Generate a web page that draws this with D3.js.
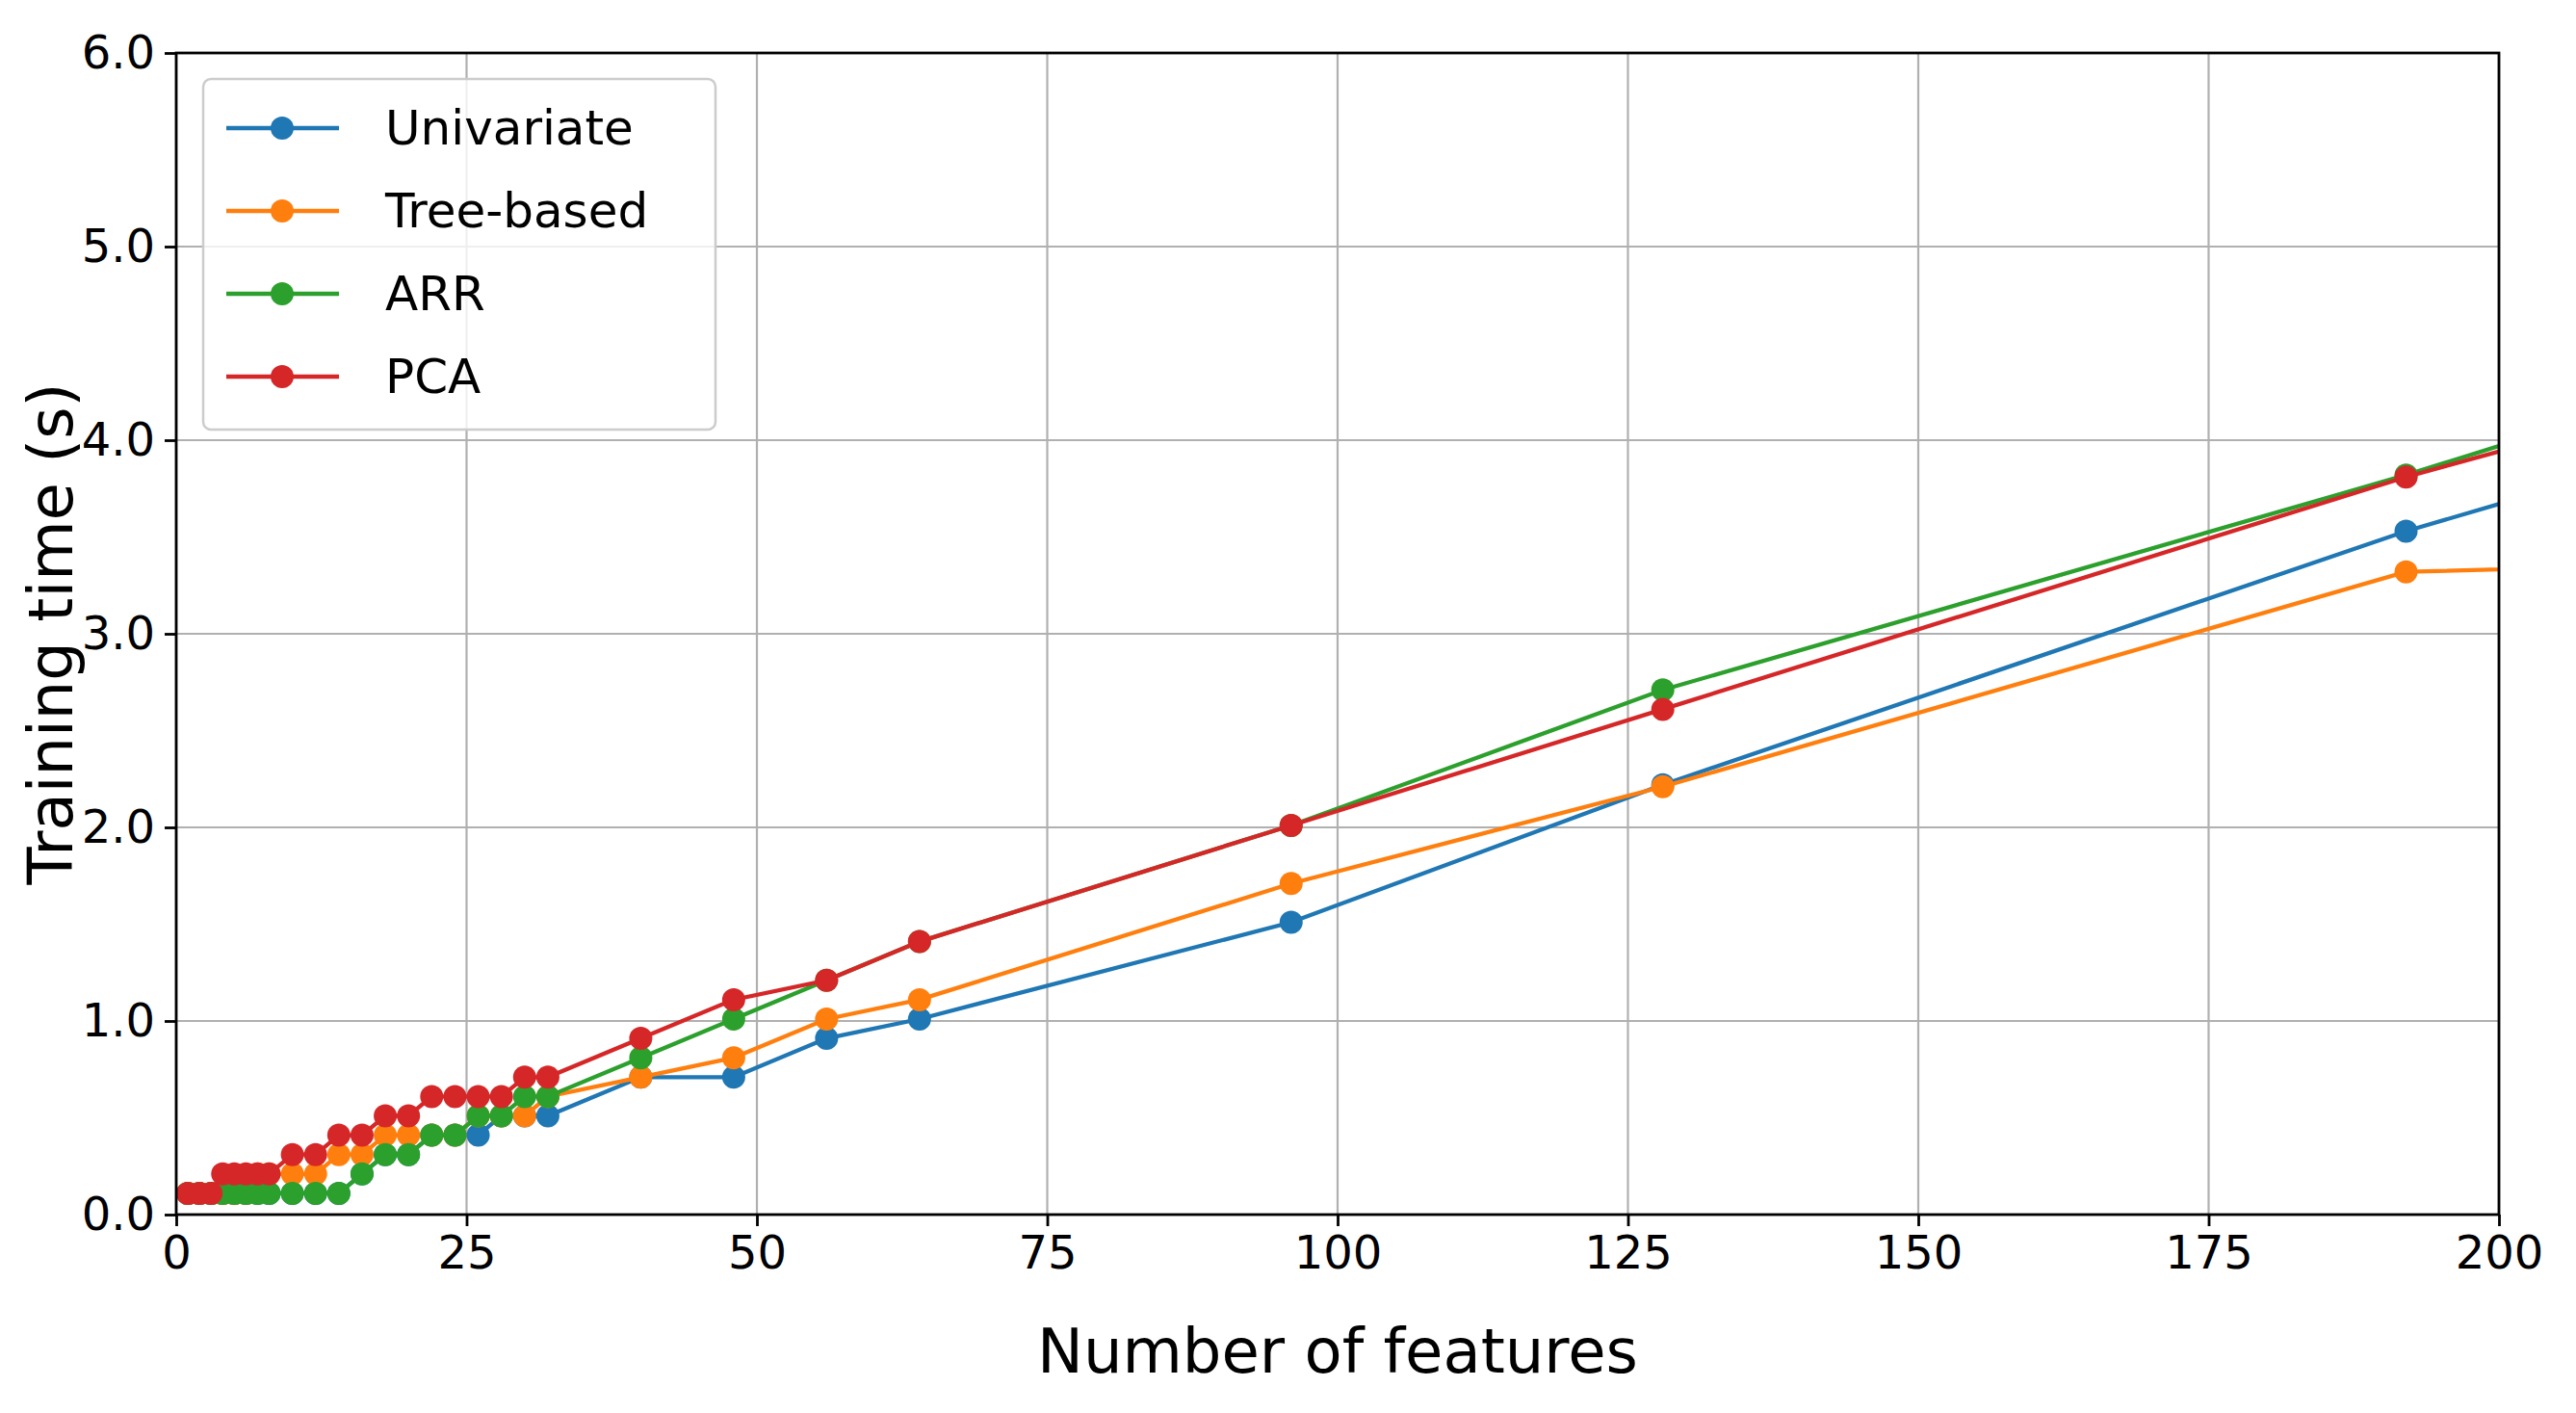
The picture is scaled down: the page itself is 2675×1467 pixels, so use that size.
<!DOCTYPE html>
<html><head><meta charset="utf-8">
<script src="https://cdn.jsdelivr.net/npm/d3@7"></script>
<style>body{margin:0;background:#fff}text{font-family:"DejaVu Sans",sans-serif}</style>
</head><body><svg width="2675" height="1467"></svg>
<script>
var features = [1,2,3,4,5,6,7,8,10,12,14,16,18,20,22,24,26,28,30,32,40,48,56,64,96,128,192,256];
var univariate = [0.11,0.11,0.11,0.11,0.11,0.11,0.11,0.11,0.11,0.11,0.11,0.21,0.31,0.31,0.41,0.41,0.41,0.51,0.51,0.51,0.71,0.71,0.91,1.01,1.51,2.22,3.53,4.65];
var treeBased = [0.11,0.11,0.11,0.11,0.11,0.11,0.21,0.21,0.21,0.21,0.31,0.31,0.41,0.41,0.41,0.41,0.51,0.51,0.51,0.61,0.71,0.81,1.01,1.11,1.71,2.21,3.32,3.42];
var arr = [0.11,0.11,0.11,0.11,0.11,0.11,0.11,0.11,0.11,0.11,0.11,0.21,0.31,0.31,0.41,0.41,0.51,0.51,0.61,0.61,0.81,1.01,1.21,1.41,2.01,2.71,3.82,5.02];
var pca = [0.11,0.11,0.11,0.21,0.21,0.21,0.21,0.21,0.31,0.31,0.41,0.41,0.51,0.51,0.61,0.61,0.61,0.61,0.71,0.71,0.91,1.11,1.21,1.41,2.01,2.61,3.81,4.86];
var seriesNames = ["Univariate","Tree-based","ARR","PCA"];
var colors = ["#1f77b4","#ff7f0e","#2ca02c","#d62728"];
var xTicks = [0,25,50,75,100,125,150,175,200];
var yTicks = [0,1,2,3,4,5,6];

var svg = d3.select("svg");
var pL = 183, pR = 2595, pT = 55, pB = 1261;
var x = d3.scaleLinear().domain([0,200]).range([pL,pR]);
var y = d3.scaleLinear().domain([0,6]).range([pB,pT]);

svg.append("defs").append("clipPath").attr("id","clip")
  .append("rect").attr("x",pL).attr("y",pT).attr("width",pR-pL).attr("height",pB-pT);

// grid
svg.append("g").selectAll("line").data(xTicks).enter().append("line")
  .attr("x1",d=>x(d)).attr("x2",d=>x(d)).attr("y1",pT).attr("y2",pB)
  .attr("stroke","#b0b0b0").attr("stroke-width",2.2);
svg.append("g").selectAll("line").data(yTicks).enter().append("line")
  .attr("y1",d=>y(d)).attr("y2",d=>y(d)).attr("x1",pL).attr("x2",pR)
  .attr("stroke","#b0b0b0").attr("stroke-width",2.2);

var all = [univariate,treeBased,arr,pca];
var plot = svg.append("g").attr("clip-path","url(#clip)");
all.forEach(function(vals,i){
  var pts = features.map((f,j)=>[f,vals[j]]);
  plot.append("path").datum(pts)
    .attr("d",d3.line().x(d=>x(d[0])).y(d=>y(d[1])))
    .attr("fill","none").attr("stroke",colors[i]).attr("stroke-width",4.3);
  plot.selectAll(null).data(pts).enter().append("circle")
    .attr("cx",d=>x(d[0])).attr("cy",d=>y(d[1])).attr("r",12).attr("fill",colors[i]);
});

// axes
var ax = svg.append("g").attr("transform","translate(0,"+pB+")")
  .call(d3.axisBottom(x).tickValues(xTicks).tickSize(12).tickPadding(10));
var ay = svg.append("g").attr("transform","translate("+pL+",0)")
  .call(d3.axisLeft(y).tickValues(yTicks).tickSize(12).tickPadding(10));
[ax,ay].forEach(function(a){
  a.select(".domain").remove();
  a.selectAll("line").attr("stroke","#000").attr("stroke-width",2.8);
  a.selectAll("text").style("font-size","48px").attr("fill","#000");
});
svg.append("rect").attr("x",pL).attr("y",pT).attr("width",pR-pL).attr("height",pB-pT)
  .attr("fill","none").attr("stroke","#000").attr("stroke-width",2.8);

svg.append("text").attr("x",(pL+pR)/2).attr("y",1425).attr("text-anchor","middle")
  .style("font-size","64px").text("Number of features");
svg.append("text").attr("transform","translate(75,"+((pT+pB)/2)+") rotate(-90)")
  .attr("text-anchor","middle").style("font-size","64px").text("Training time (s)");

// legend
var lg = svg.append("g");
lg.append("rect").attr("x",211).attr("y",82).attr("width",532).attr("height",364).attr("rx",8)
  .attr("fill","#fff").attr("fill-opacity",0.8).attr("stroke","#ccc").attr("stroke-width",2.5);
seriesNames.forEach(function(n,i){
  var yy = 133 + i*86;
  lg.append("line").attr("x1",235).attr("x2",352).attr("y1",yy).attr("y2",yy)
    .attr("stroke",colors[i]).attr("stroke-width",4.3);
  lg.append("circle").attr("cx",293).attr("cy",yy).attr("r",12).attr("fill",colors[i]);
  lg.append("text").attr("x",400).attr("y",yy+17).style("font-size","50px").text(n);
});
</script></body></html>
